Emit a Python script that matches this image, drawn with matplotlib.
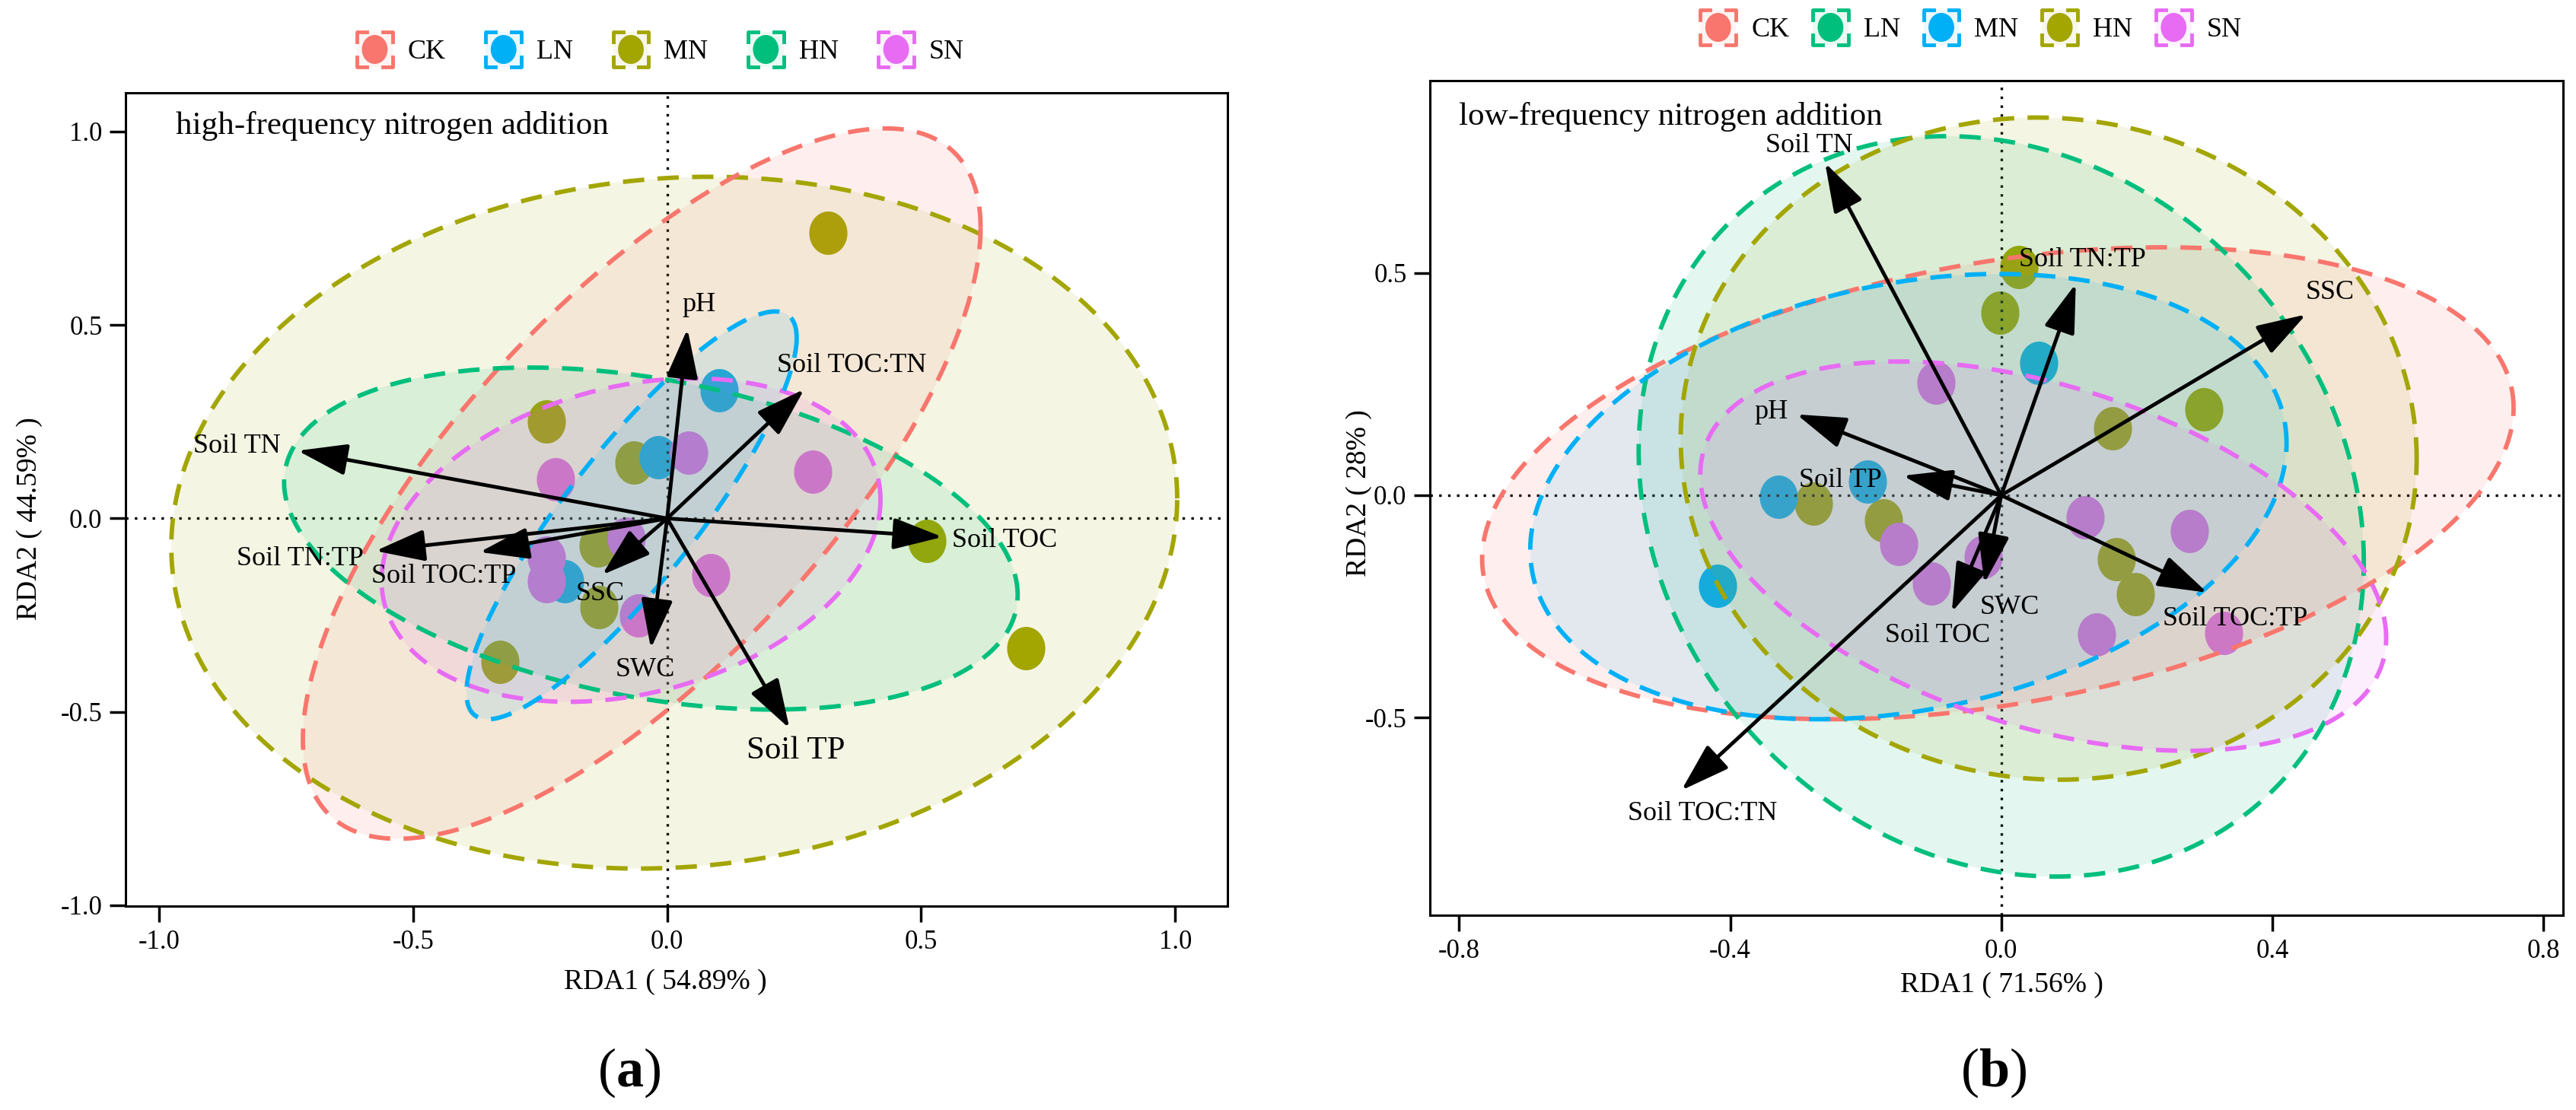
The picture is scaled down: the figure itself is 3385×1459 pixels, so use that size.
import numpy as np
import matplotlib
matplotlib.use("Agg")
import matplotlib.pyplot as plt
from matplotlib.path import Path
from matplotlib.legend_handler import HandlerBase
from matplotlib.patches import Rectangle, Ellipse, Patch
from matplotlib.lines import Line2D

plt.rcParams['font.family'] = ['Liberation Serif', 'DejaVu Serif']
plt.rcParams['mathtext.fontset'] = 'custom'
plt.rcParams['mathtext.rm'] = 'Liberation Serif'
plt.rcParams['mathtext.bf'] = 'Liberation Serif:bold'
plt.rcParams['axes.unicode_minus'] = False

# ---------------- data: panel (a) high-frequency ----------------
A_GROUPS = ['CK', 'LN', 'MN', 'HN', 'SN']
A_COLORS = ['#F8766D', '#00B0F6', '#A3A500', '#00BF7D', '#E76BF3']

A_MN_X = [0.317, -0.237, -0.066, -0.136, -0.135, -0.329, 0.511, 0.706]
A_MN_Y = [0.739, 0.251, 0.144, -0.070, -0.229, -0.370, -0.059, -0.336]
A_LN_X = [0.102, -0.017, -0.201]
A_LN_Y = [0.331, 0.159, -0.163]
A_SN_X = [0.043, -0.220, 0.286, -0.237, -0.238, -0.080, 0.086, -0.057]
A_SN_Y = [0.169, 0.101, 0.120, -0.101, -0.163, -0.052, -0.146, -0.250]

A_VARS = ['pH', 'Soil TOC:TN', 'Soil TN', 'Soil TOC', 'Soil TN:TP', 'Soil TOC:TP', 'SSC', 'SWC', 'Soil TP']
A_VEC_X = [0.040, 0.270, -0.727, 0.542, -0.574, -0.369, -0.128, -0.032, 0.241]
A_VEC_Y = [0.490, 0.334, 0.175, -0.048, -0.084, -0.087, -0.146, -0.336, -0.543]
A_LAB_X = [0.062, 0.363, -0.846, 0.664, -0.723, -0.439, -0.132, -0.043, 0.254]
A_LAB_Y = [0.553, 0.396, 0.186, -0.057, -0.104, -0.149, -0.195, -0.391, -0.601]

# ellipse parameters: centre x, centre y, half extent x, half extent y, correlation
A_ELL_CX = {'CK': -0.05, 'LN': -0.07, 'MN': 0.014, 'HN': -0.032, 'SN': -0.071}
A_ELL_CY = {'CK': 0.09, 'LN': 0.008, 'MN': -0.011, 'HN': -0.052, 'SN': -0.056}
A_ELL_SX = {'CK': 0.667, 'LN': 0.325, 'MN': 0.99, 'HN': 0.722, 'SN': 0.491}
A_ELL_SY = {'CK': 0.918, 'LN': 0.527, 'MN': 0.894, 'HN': 0.442, 'SN': 0.418}
A_ELL_R = {'CK': 0.72, 'LN': 0.87, 'MN': 0.07, 'HN': -0.33, 'SN': 0.25}

# ---------------- data: panel (b) low-frequency ----------------
B_GROUPS = ['CK', 'LN', 'MN', 'HN', 'SN']
B_COLORS = ['#F8766D', '#00BF7D', '#00B0F6', '#A3A500', '#E76BF3']

B_HN_X = [0.026, -0.002, 0.299, 0.164, -0.277, -0.174, 0.170, 0.198]
B_HN_Y = [0.514, 0.411, 0.194, 0.150, -0.019, -0.056, -0.144, -0.222]
B_MN_X = [0.055, -0.329, -0.197, -0.418]
B_MN_Y = [0.298, -0.003, 0.031, -0.203]
B_SN_X = [-0.096, -0.151, -0.103, -0.027, 0.124, 0.278, 0.141, 0.328]
B_SN_Y = [0.253, -0.110, -0.198, -0.138, -0.050, -0.081, -0.313, -0.310]

B_VARS = ['Soil TN', 'Soil TN:TP', 'SSC', 'pH', 'Soil TP', 'Soil TOC:TP', 'SWC', 'Soil TOC', 'Soil TOC:TN']
B_VEC_X = [-0.260, 0.110, 0.450, -0.302, -0.145, 0.304, -0.025, -0.073, -0.472]
B_VEC_Y = [0.748, 0.476, 0.407, 0.182, 0.044, -0.219, -0.198, -0.263, -0.664]
B_LAB_X = [-0.283, 0.120, 0.485, -0.340, -0.237, 0.345, 0.013, -0.094, -0.441]
B_LAB_Y = [0.786, 0.530, 0.457, 0.188, 0.034, -0.278, -0.253, -0.316, -0.717]

B_ELL_CX = {'CK': -0.005, 'LN': 0.0, 'MN': -0.137, 'HN': 0.07, 'SN': 0.062}
B_ELL_CY = {'CK': 0.027, 'LN': -0.025, 'MN': -0.003, 'HN': 0.105, 'SN': -0.137}
B_ELL_SX = {'CK': 0.761, 'LN': 0.535, 'MN': 0.558, 'HN': 0.543, 'SN': 0.506}
B_ELL_SY = {'CK': 0.531, 'LN': 0.833, 'MN': 0.501, 'HN': 0.745, 'SN': 0.438}
B_ELL_R = {'CK': 0.32, 'LN': -0.15, 'MN': 0.24, 'HN': -0.03, 'SN': -0.42}

# ---------------- styling helpers ----------------
t = np.linspace(0, 2 * np.pi, 300)
ell_marker = Path(np.column_stack([0.44 * np.cos(t), 0.5 * np.sin(t)]), closed=True)


def ellipse_xy(cx, cy, sx, sy, r):
    cov = np.array([[sx * sx, r * sx * sy], [r * sx * sy, sy * sy]])
    L = np.linalg.cholesky(cov)
    pts = L @ np.vstack([np.cos(t), np.sin(t)])
    return cx + pts[0], cy + pts[1]


def style_axes(ax, xlim, ylim, xticks, yticks):
    ax.set_xlim(*xlim)
    ax.set_ylim(*ylim)
    ax.set_xticks(xticks)
    ax.set_yticks(yticks)
    ax.set_xticklabels([f"{v:.1f}" for v in xticks])
    ax.set_yticklabels([f"{v:.1f}" for v in yticks])
    for s in ax.spines.values():
        s.set_linewidth(2.2)
    ax.tick_params(direction='out', length=15, width=2.5, labelsize=25, pad=7)
    ax.axhline(0, color='black', ls=(0, (1, 2.5)), lw=2.4, zorder=1.5)
    ax.axvline(0, color='black', ls=(0, (1, 2.5)), lw=2.4, zorder=1.5)


def draw_ellipses(ax, groups, colors, cx, cy, sx, sy, rr):
    for g, c in zip(groups, colors):
        x, y = ellipse_xy(cx[g], cy[g], sx[g], sy[g], rr[g])
        ax.fill(x, y, facecolor=c, alpha=0.11, edgecolor='none', zorder=2)
        ax.plot(x, y, color=c, lw=4.2, ls=(0, (4.8, 3.0)), zorder=3)


def draw_points(ax, xs, ys, color):
    ax.plot(xs, ys, ls='none', marker=ell_marker, ms=41, color=color,
            markeredgewidth=0, zorder=1)


def draw_vectors(ax, vx, vy, lx, ly, names, big=None):
    for x, y, tx, ty, n in zip(vx, vy, lx, ly, names):
        ax.annotate('', xy=(x, y), xytext=(0, 0),
                    arrowprops=dict(arrowstyle='-|>,head_length=1.0,head_width=0.32',
                                    lw=3.5, color='black', shrinkA=0, shrinkB=0,
                                    mutation_scale=40), zorder=4)
        fs = 31 if n == big else 26
        ax.text(tx, ty, n, ha='center', va='center', fontsize=fs, zorder=5)


class KeyHandler(HandlerBase):
    def create_artists(self, legend, orig_handle, xdescent, ydescent,
                       width, height, fontsize, trans):
        c = orig_handle.get_edgecolor()
        x0, y0 = -xdescent, -ydescent
        bg = Rectangle((x0, y0), width, height, facecolor=c, alpha=0.08,
                       edgecolor='none', transform=trans)
        arts = [bg]
        cl = 0.28 * width
        for (px, py, dx, dy) in [(x0, y0, 1, 1), (x0 + width, y0, -1, 1),
                                 (x0, y0 + height, 1, -1), (x0 + width, y0 + height, -1, -1)]:
            arts.append(Line2D([px + dx * cl, px, px], [py, py, py + dy * cl],
                               color=c, lw=3.5, transform=trans))
        e = Ellipse((x0 + width / 2, y0 + height / 2), width * 0.72, height * 0.82,
                    facecolor=c, edgecolor='none', transform=trans)
        arts.append(e)
        return arts


def add_legend(fig, groups, colors, cx, cy, colsp):
    handles = [Patch(facecolor='none', edgecolor=c) for c in colors]
    fig.legend(handles, groups, handler_map={Patch: KeyHandler()},
               loc='center', bbox_to_anchor=(cx, cy), ncol=5, frameon=False,
               fontsize=26, handlelength=1.3, handleheight=1.6,
               columnspacing=colsp, handletextpad=0.55)


W, H = 3385, 1459
fig = plt.figure(figsize=(W / 100, H / 100), dpi=100)

# ---------------- panel (a) ----------------
axa = fig.add_axes([165 / W, 1 - 1191 / H, (1613 - 165) / W, (1191 - 122) / H])
style_axes(axa, (-1.066, 1.103), (-1.002, 1.10), [-1.0, -0.5, 0.0, 0.5, 1.0],
           [-1.0, -0.5, 0.0, 0.5, 1.0])
draw_points(axa, A_MN_X, A_MN_Y, A_COLORS[2])
draw_points(axa, A_LN_X, A_LN_Y, A_COLORS[1])
draw_points(axa, A_SN_X, A_SN_Y, A_COLORS[4])
draw_ellipses(axa, ['MN', 'CK', 'HN', 'SN', 'LN'],
              [A_COLORS[2], A_COLORS[0], A_COLORS[3], A_COLORS[4], A_COLORS[1]],
              A_ELL_CX, A_ELL_CY, A_ELL_SX, A_ELL_SY, A_ELL_R)
draw_vectors(axa, A_VEC_X, A_VEC_Y, A_LAB_X, A_LAB_Y, A_VARS, big='Soil TP')
axa.text(-0.967, 1.015, 'high-frequency nitrogen addition', fontsize=31,
         ha='left', va='center', zorder=5)

# ---------------- panel (b) ----------------
axb = fig.add_axes([1879 / W, 1 - 1203 / H, (3368 - 1879) / W, (1203 - 106) / H])
style_axes(axb, (-0.843, 0.829), (-0.945, 0.933), [-0.8, -0.4, 0.0, 0.4, 0.8],
           [-0.5, 0.0, 0.5])
draw_points(axb, B_HN_X, B_HN_Y, B_COLORS[3])
draw_points(axb, B_MN_X, B_MN_Y, B_COLORS[2])
draw_points(axb, B_SN_X, B_SN_Y, B_COLORS[4])
draw_ellipses(axb, ['CK', 'LN', 'HN', 'MN', 'SN'],
              [B_COLORS[0], B_COLORS[1], B_COLORS[3], B_COLORS[2], B_COLORS[4]],
              B_ELL_CX, B_ELL_CY, B_ELL_SX, B_ELL_SY, B_ELL_R)
draw_vectors(axb, B_VEC_X, B_VEC_Y, B_LAB_X, B_LAB_Y, B_VARS)
axb.text(-0.80, 0.852, 'low-frequency nitrogen addition', fontsize=31,
         ha='left', va='center', zorder=5)

# ---------------- labels ----------------
fig.text(874 / W, 1 - 1291 / H, 'RDA1 ( 54.89% )', ha='center', va='center', fontsize=27)
fig.text(39 / W, 1 - 682 / H, 'RDA2 ( 44.59% )', ha='center', va='center', fontsize=27,
         rotation=90)
fig.text(2630 / W, 1 - 1295 / H, 'RDA1 ( 71.56% )', ha='center', va='center', fontsize=27)
fig.text(1786 / W, 1 - 648 / H, 'RDA2 ( 28% )', ha='center', va='center', fontsize=27,
         rotation=90)
fig.text(827 / W, 1 - 1410 / H, r'($\mathbf{a}$)', ha='center', va='center', fontsize=52)
fig.text(2620 / W, 1 - 1410 / H, r'($\mathbf{b}$)', ha='center', va='center', fontsize=52)

add_legend(fig, A_GROUPS, A_COLORS, 868 / W, 1 - 65 / H, 1.45)
add_legend(fig, B_GROUPS, B_COLORS, 2590 / W, 1 - 36 / H, 0.85)

fig.savefig('out.png', dpi=100)
